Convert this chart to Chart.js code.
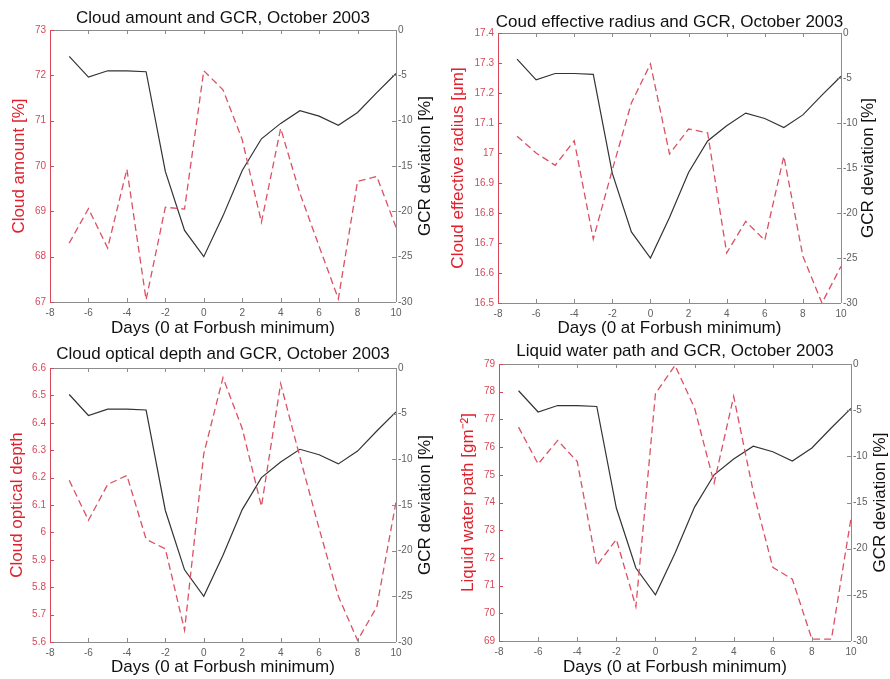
<!DOCTYPE html>
<html>
<head>
<meta charset="utf-8">
<script src="https://cdn.jsdelivr.net/npm/chart.js@4/dist/chart.umd.min.js"></script>
<style>
  html, body { margin: 0; padding: 0; background: #ffffff; }
  #wrap { position: relative; width: 890px; height: 679px; overflow: hidden; background: #fff; }
  canvas { position: absolute; }
</style>
</head>
<body>
<div id="wrap">
  <canvas id="c1" width="445" height="340" style="left:0px;top:0px"></canvas>
  <canvas id="c2" width="445" height="340" style="left:445px;top:0px"></canvas>
  <canvas id="c3" width="445" height="339" style="left:0px;top:340px"></canvas>
  <canvas id="c4" width="445" height="339" style="left:445px;top:340px"></canvas>
</div>
<script>
// ---------------- data ----------------
const days = [-7, -6, -5, -4, -3, -2, -1, 0, 1, 2, 3, 4, 5, 6, 7, 8, 9, 10];
const gcrDeviation = [-2.9, -5.2, -4.5, -4.5, -4.6, -15.6, -22.1, -25.0, -20.5, -15.5, -12.0, -10.3, -8.9, -9.5, -10.5, -9.1, -6.9, -4.8];
const cloudAmount = [68.30, 69.06, 68.19, 69.93, 67.05, 69.09, 69.05, 72.10, 71.68, 70.58, 68.76, 70.83, 69.40, 68.23, 67.07, 69.66, 69.77, 68.65];
const effectiveRadius = [17.056, 17.00, 16.959, 17.041, 16.713, 16.944, 17.167, 17.297, 16.997, 17.08, 17.067, 16.667, 16.772, 16.709, 16.989, 16.656, 16.50, 16.622];
const opticalDepth = [6.19, 6.044, 6.175, 6.208, 5.975, 5.94, 5.643, 6.287, 6.565, 6.379, 6.095, 6.543, 6.275, 6.014, 5.767, 5.606, 5.728, 6.111];
const liquidWaterPath = [76.72, 75.39, 76.24, 75.48, 71.72, 72.67, 70.24, 77.93, 78.95, 77.41, 74.70, 77.83, 74.40, 71.66, 71.23, 69.07, 69.07, 73.43];

const dayTicks = [-8, -6, -4, -2, 0, 2, 4, 6, 8, 10];
const gcrTicks = [-30, -25, -20, -15, -10, -5, 0];
const cloudAmountTicks = [67, 68, 69, 70, 71, 72, 73];
const effectiveRadiusTicks = [16.5, 16.6, 16.7, 16.8, 16.9, 17, 17.1, 17.2, 17.3, 17.4];
const opticalDepthTicks = [5.6, 5.7, 5.8, 5.9, 6, 6.1, 6.2, 6.3, 6.4, 6.5, 6.6];
const liquidWaterPathTicks = [69, 70, 71, 72, 73, 74, 75, 76, 77, 78, 79];

const chartTitles = [
  'Cloud amount and GCR, October 2003',
  'Coud effective radius and GCR, October 2003',
  'Cloud optical depth and GCR, October 2003',
  'Liquid water path and GCR, October 2003'
];
const leftTitles = ['Cloud amount [%]', 'Cloud effective radius [\u03bcm]', 'Cloud optical depth', 'Liquid water path [gm\u207b\u00b2]'];
const rightTitle = 'GCR deviation [%]';
const xTitle = 'Days (0 at Forbush minimum)';

// ---------------- layout / style ----------------
const FONT = "'Liberation Sans', Arial, Helvetica, sans-serif";
const RED = '#d8485a';
const RED_LINE = '#dc5064';
const GRAY = '#8c8c8c';
const TICK_GRAY = '#606060';

const panels = [
  { id: 'c1', series: cloudAmount, ticks: cloudAmountTicks, area: { l: 50, r: 396, t: 30, b: 302 }, titleY: 18, leftX: 19, rightX: 425, xTitleY: 328 },
  { id: 'c2', series: effectiveRadius, ticks: effectiveRadiusTicks, area: { l: 53, r: 396, t: 33, b: 303 }, titleY: 22, leftX: 13, rightX: 423, xTitleY: 328 },
  { id: 'c3', series: opticalDepth, ticks: opticalDepthTicks, area: { l: 50, r: 396, t: 28, b: 302 }, titleY: 14, leftX: 17, rightX: 425, xTitleY: 327 },
  { id: 'c4', series: liquidWaterPath, ticks: liquidWaterPathTicks, area: { l: 54, r: 406, t: 24, b: 301 }, titleY: 11, leftX: 23, rightX: 435, xTitleY: 327 }
];

const decoPlugin = {
  id: 'deco',
  afterDraw(chart, args, o) {
    const { ctx, chartArea: ca, scales } = chart;
    const { left, right, top, bottom } = ca;
    ctx.save();
    ctx.lineWidth = 1;
    const line = (x1, y1, x2, y2) => { ctx.beginPath(); ctx.moveTo(x1, y1); ctx.lineTo(x2, y2); ctx.stroke(); };
    ctx.strokeStyle = GRAY;
    scales.x.ticks.forEach(t => {
      const px = Math.round(scales.x.getPixelForValue(t.value)) + 0.5;
      line(px, bottom, px, bottom - 4);
      line(px, top, px, top + 4);
    });
    scales.y1.ticks.forEach(t => {
      const py = Math.round(scales.y1.getPixelForValue(t.value)) + 0.5;
      line(right, py, right - 4, py);
    });
    line(left, Math.round(top) + 0.5, right, Math.round(top) + 0.5);
    line(left, Math.round(bottom) + 0.5, right, Math.round(bottom) + 0.5);
    line(Math.round(right) + 0.5, top, Math.round(right) + 0.5, bottom);
    ctx.strokeStyle = RED;
    line(Math.round(left) + 0.5, top, Math.round(left) + 0.5, bottom);
    scales.y.ticks.forEach(t => {
      const py = Math.round(scales.y.getPixelForValue(t.value)) + 0.5;
      line(left, py, left + 4, py);
    });
    ctx.textAlign = 'center';
    ctx.textBaseline = 'middle';
    ctx.fillStyle = '#111';
    ctx.font = '17px ' + FONT;
    ctx.fillText(o.title, (left + right) / 2, o.titleY);
    ctx.fillText(xTitle, (left + right) / 2, o.xTitleY);
    ctx.save();
    ctx.translate(o.leftX, (top + bottom) / 2);
    ctx.rotate(-Math.PI / 2);
    ctx.fillStyle = '#e0202c';
    ctx.fillText(o.leftTitle, 0, 0);
    ctx.restore();
    ctx.save();
    ctx.translate(o.rightX, (top + bottom) / 2);
    ctx.rotate(-Math.PI / 2);
    ctx.fillStyle = '#111';
    ctx.fillText(rightTitle, 0, 0);
    ctx.restore();
    ctx.restore();
  }
};

panels.forEach((p, i) => {
  const cv = document.getElementById(p.id);
  const W = cv.width, H = cv.height;
  const a = p.area;
  new Chart(cv, {
    type: 'line',
    data: {
      labels: days,
      datasets: [
        {
          data: days.map((d, k) => ({ x: d, y: p.series[k] })),
          yAxisID: 'y',
          borderColor: RED_LINE,
          borderWidth: 1.3,
          borderDash: [7, 4],
          pointRadius: 0,
          tension: 0,
          clip: false
        },
        {
          data: days.map((d, k) => ({ x: d, y: gcrDeviation[k] })),
          yAxisID: 'y1',
          borderColor: '#333333',
          borderWidth: 1.2,
          pointRadius: 0,
          tension: 0,
          clip: false
        }
      ]
    },
    options: {
      responsive: false,
      animation: false,
      devicePixelRatio: 1,
      layout: { padding: { top: a.t, left: 0, right: 0, bottom: 0 } },
      plugins: {
        legend: { display: false },
        title: { display: false },
        tooltip: { enabled: false },
        deco: { title: chartTitles[i], leftTitle: leftTitles[i], titleY: p.titleY, leftX: p.leftX, rightX: p.rightX, xTitleY: p.xTitleY }
      },
      scales: {
        x: {
          type: 'linear',
          min: dayTicks[0],
          max: dayTicks[dayTicks.length - 1],
          afterBuildTicks: s => { s.ticks = dayTicks.map(v => ({ value: v })); },
          afterFit: s => { s.height = H - a.b; },
          grid: { display: false, drawTicks: false },
          border: { display: false },
          ticks: { color: TICK_GRAY, font: { family: FONT, size: 10 }, padding: 5, maxRotation: 0, autoSkip: false, callback: v => String(v) }
        },
        y: {
          type: 'linear',
          position: 'left',
          min: p.ticks[0],
          max: p.ticks[p.ticks.length - 1],
          afterBuildTicks: s => { s.ticks = p.ticks.map(v => ({ value: v })); },
          afterFit: s => { s.width = a.l; },
          grid: { display: false, drawTicks: false },
          border: { display: false },
          ticks: { color: RED, font: { family: FONT, size: 10 }, padding: 4, autoSkip: false, callback: v => String(v) }
        },
        y1: {
          type: 'linear',
          position: 'right',
          min: gcrTicks[0],
          max: gcrTicks[gcrTicks.length - 1],
          afterBuildTicks: s => { s.ticks = gcrTicks.map(v => ({ value: v })); },
          afterFit: s => { s.width = W - a.r; },
          grid: { display: false, drawTicks: false },
          border: { display: false },
          ticks: { color: TICK_GRAY, font: { family: FONT, size: 10 }, padding: 2, autoSkip: false, callback: v => String(v) }
        }
      }
    },
    plugins: [decoPlugin]
  });
});
</script>
</body>
</html>
